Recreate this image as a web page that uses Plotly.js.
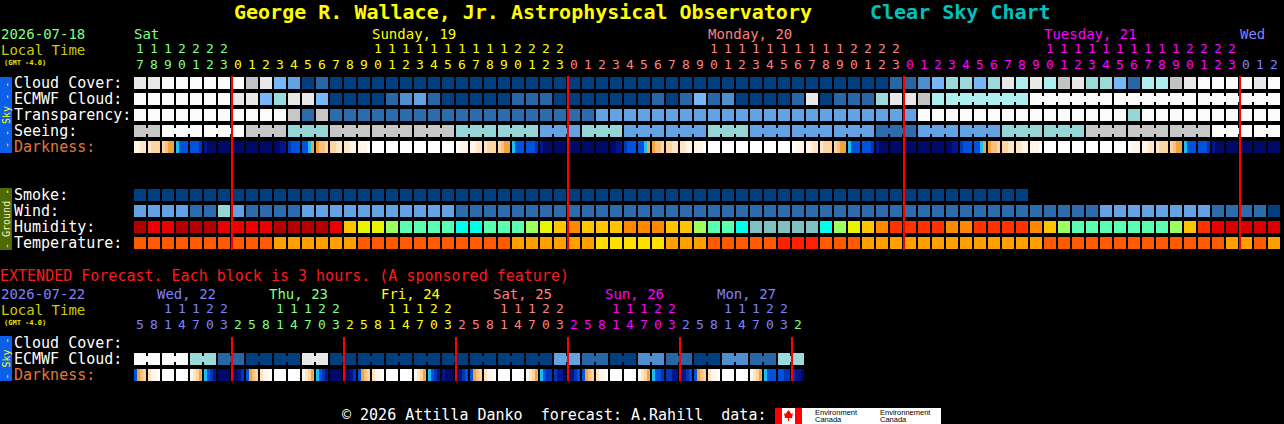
<!DOCTYPE html>
<html><head><meta charset="utf-8">
<script src="https://cdn.plot.ly/plotly-3.0.1.min.js"></script>
<style>html,body{margin:0;padding:0;background:#000;overflow:hidden}#chart{width:1284px;height:424px}</style>
</head><body><div id="chart"></div>
<script>
// ======================= DATA =======================
const mainStartHour = 17;                 // first hourly block: Sat 2026-07-18 17:00 local
const mainDate = '2026-07-18';
const mainDayLabels = ['Sat', 'Sunday, 19', 'Monday, 20', 'Tuesday, 21', 'Wed'];
const extStartHour = 5;                   // first 3-hour block: Wed 2026-07-22 05:00 local
const extStepHours = 3;
const extDate = '2026-07-22';
const extDayLabels = ['Wed, 22', 'Thu, 23', 'Fri, 24', 'Sat, 25', 'Sun, 26', 'Mon, 27'];
const extFirstDayIndex = 4;               // Wed is the 5th day counted from Sat
const dayColors = ['#80ff80', '#ffff00', '#ff8080', '#ff00ff', '#8080ff'];

// cloud cover in tenths (0 = clear, 10 = overcast), one per hour
const cloudCover = [
  9, 9, 10, 10, 10, 10, 10, 10, 8, 9,
  5, 4, 0, 1, 0, 0, 0, 0, 0, 0,
  0, 0, 0, 0, 0, 0, 0, 0, 0, 0,
  0, 0, 0, 0, 0, 0, 0, 0, 0, 0,
  0, 0, 0, 0, 0, 0, 0, 0, 0, 0,
  0, 0, 0, 0, 1, 1, 3, 5, 6, 6,
  5, 6, 9, 7, 9, 7, 8, 9, 6, 6,
  5, 1, 7, 7, 8, 9, 10, 10, 10, 10,
  9, 10
];
// ECMWF cloud in tenths: hourly first, then 6-hour blocks
const ecmwfHourly = [
  10, 10, 10, 10, 10, 10, 10, 9, 9, 5,
  6, 9, 9, 5, 0, 0, 0, 0, 1, 3,
  4, 1, 0, 0, 0, 0, 0, 1, 1, 1,
  0, 0, 0, 0, 0, 0, 0, 1, 0, 1,
  5, 1, 3, 0, 0, 0, 0, 1, 9, 0,
  1, 1, 1, 6, 9, 9, 8, 7
];
const ecmwfSixHour = [7, 10, 10, 10];
// transparency: 0 transparent .. 4 poor, 5 too cloudy to forecast
const transparency = [
  5, 5, 5, 5, 5, 5, 5, 5, 5, 5,
  5, 4, 1, 4, 1, 1, 1, 1, 1, 1,
  1, 1, 1, 1, 1, 1, 1, 1, 1, 1,
  1, 1, 1, 2, 2, 2, 2, 2, 2, 2,
  2, 2, 2, 2, 2, 2, 2, 2, 2, 2,
  2, 2, 2, 2, 2, 2, 5, 5, 5, 5,
  5, 5, 5, 5, 5, 5, 5, 5, 5, 5,
  5, 3, 5, 5, 5, 5, 5, 5, 5, 5,
  5, 5
];
// seeing per 3-hour block: 0 excellent .. 4 bad, 5 too cloudy
const seeingPhase = 1;
const seeing3h = [4, 5, 5, 4, 3, 4, 4, 4, 3, 3, 2, 3, 2, 2, 3, 2, 2, 2, 1, 2, 2, 3, 3, 4, 4, 4, 5, 5];
// darkness: four quarter-hour readings per hour (0 daylight .. 10 darkest)
const darkness = [
  [1,1,2,2],[2,3,3,3],[3,4,5,5],[6,7,7,7],[7,7,7,8],[9,10,10,10],[10,10,10,10],
  [10,10,10,10],[10,10,10,10],[10,10,10,10],[10,10,9,9],[8,7,7,7],[7,7,6,5],[5,4,4,3],
  [3,3,2,2],[2,2,1,1],[1,1,1,0],[0,0,0,0],[0,0,0,0],[0,0,0,0],[0,0,0,0],[0,0,0,0],
  [0,0,0,0],[0,1,1,1],[1,1,2,2],[2,3,3,3],[3,4,5,5],[6,7,7,7],[7,7,7,8],[9,10,10,10],
  [10,10,10,10],
  [10,10,10,10],[10,10,10,10],[10,10,10,10],[10,10,9,9],[8,7,7,7],[7,7,6,5],[5,4,4,3],
  [3,3,2,2],[2,2,1,1],[1,1,1,0],[0,0,0,0],[0,0,0,0],[0,0,0,0],[0,0,0,0],[0,0,0,0],
  [0,0,0,0],[0,1,1,1],[1,1,2,2],[2,3,3,3],[3,4,5,5],[6,7,7,7],[7,7,7,8],[9,10,10,10],
  [10,10,10,10],
  [10,10,10,10],[10,10,10,10],[10,10,10,10],[10,10,9,9],[8,7,7,7],[7,7,6,5],[5,4,4,3],
  [3,3,2,2],[2,2,1,1],[1,1,1,0],[0,0,0,0],[0,0,0,0],[0,0,0,0],[0,0,0,0],[0,0,0,0],
  [0,0,0,0],[0,1,1,1],[1,1,2,2],[2,3,3,3],[3,4,5,5],[6,7,7,7],[7,7,7,8],[9,10,10,10],
  [10,10,10,10],
  [10,10,10,10],[10,10,10,10],[10,10,10,10]
];
// smoke: 0 = no smoke (forecast ends after 64 hours)
const smoke = [
  0,0,0,0,0,0,0,0,0,0, 0,0,0,0,0,0,0,0,0,0, 0,0,0,0,0,0,0,0,0,0,
  0,0,0,0,0,0,0,0,0,0, 0,0,0,0,0,0,0,0,0,0, 0,0,0,0,0,0,0,0,0,0,
  0,0,0,0
];
const windMph = [
  14, 14, 14, 14, 8, 8, 20, 14, 8, 8,
  8, 8, 14, 14, 14, 14, 14, 14, 14, 14,
  14, 14, 14, 8, 8, 8, 8, 8, 8, 8,
  8, 8, 8, 8, 8, 8, 8, 8, 8, 8,
  8, 8, 8, 8, 8, 8, 8, 8, 8, 8,
  8, 8, 8, 8, 8, 8, 8, 8, 8, 8,
  8, 8, 8, 8, 8, 8, 8, 8, 8, 14,
  14, 14, 14, 14, 14, 14, 14, 8, 8, 8,
  8, 3
];
const humidity = [
  97, 92, 92, 97, 97, 97, 92, 92, 92, 92,
  97, 97, 97, 97, 92, 78, 73, 73, 68, 63,
  63, 63, 63, 58, 58, 63, 63, 63, 68, 73,
  78, 83, 78, 78, 78, 83, 83, 83, 78, 78,
  68, 63, 63, 58, 53, 53, 53, 53, 53, 58,
  68, 73, 78, 83, 88, 88, 88, 88, 83, 83,
  88, 88, 88, 88, 83, 78, 68, 63, 63, 63,
  63, 63, 63, 63, 68, 78, 88, 92, 95, 95,
  95, 95
];
const temperatureF = [
  72, 72, 72, 72, 72, 72, 72, 72, 72, 72,
  66, 66, 66, 66, 66, 66, 72, 72, 72, 72,
  72, 72, 72, 72, 72, 72, 72, 66, 66, 66,
  66, 66, 66, 61, 61, 61, 61, 61, 66, 66,
  66, 72, 72, 72, 72, 72, 79, 79, 79, 72,
  72, 72, 66, 66, 66, 66, 66, 66, 66, 66,
  66, 66, 66, 66, 66, 72, 72, 72, 72, 72,
  72, 72, 72, 72, 72, 72, 72, 72, 66, 66,
  72, 66
];
// extended forecast (3-hour blocks)
const extEcmwfSixHour = [10, 10, 6, 1, 0, 0, 9, 0, 0, 0, 0, 0, 0, 0, 0, 4, 1, 0, 3, 1, 0, 3, 1, 6];
const extDarkness = [
  [7,5,4,3],[2,1,1,0],[0,0,0,0],[0,0,0,0],[1,2,3,5],[6,7,8,9],[10,10,10,10],
  [10,10,9,8],[7,5,4,3],[2,1,1,0],[0,0,0,0],[0,0,0,0],[1,2,3,5],[6,7,8,9],[10,10,10,10],
  [10,10,9,8],[7,5,4,3],[2,1,1,0],[0,0,0,0],[0,0,0,0],[1,2,3,5],[6,7,8,9],[9,10,10,10],
  [10,9,8,7],[7,5,4,3],[2,1,1,0],[0,0,0,0],[0,0,0,0],[1,2,3,5],[6,7,8,8],[8,9,9,10],
  [10,9,8,7],[7,5,4,3],[2,1,1,0],[0,0,0,0],[0,0,0,0],[1,2,3,5],[6,7,7,8],[8,8,9,9],
  [9,9,8,7],[7,5,4,3],[2,1,1,0],[0,0,0,0],[0,0,0,0],[1,2,3,5],[6,7,7,7],[7,7,8,8],
  [8,9,9,10]
];

// ======================= STYLE / GEOMETRY =======================
const W = 1284, H = 424;
const X0 = 134, PITCH = 14, BLOCK = 12;
const BW = BLOCK / PITCH, HALF = BW / 2;
const FONT = 'DejaVu Sans Mono, Liberation Mono, monospace';
const xr0 = -(X0 + BLOCK / 2) / PITCH;
const rowTop = {cloud: 77, ecmwf: 93, transp: 109, seeing: 125, dark: 141,
  smoke: 189, wind: 205, hum: 221, temp: 237, extCloud: 337, extEcmwf: 353, extDark: 369};
const DIGIT_SIZE = 13, HEAD_SIZE = 14, LABEL_SIZE = 15;

const cloudColors = ['#003f7f','#2767a7','#3b7bbb','#4f8fcf','#63a3e3','#77b7f7','#9adada','#aeeeee','#c2c2c2','#e8e8e8','#fbfbfb'];
const scaleColors = ['#003f7f','#2c6cac','#63a3e3','#95d5d5','#c7c7c7','#fbfbfb'];
const darkColors = ['#ffffff','#fff5e8','#fde6c6','#fbd6a2','#f8c27c','#f0a23e','#18c0f0','#0052dc','#0036b8','#00168a','#000868'];
const cloudC = v => cloudColors[v];
const scaleC = v => scaleColors[v];
const windC = v => v < 6 ? scaleColors[0] : v < 12 ? scaleColors[1] : v < 17 ? scaleColors[2] : v < 29 ? scaleColors[3] : v < 46 ? scaleColors[4] : scaleColors[5];
const humC = v => v >= 96 ? '#b40000' : v >= 94 ? '#d80000' : v >= 90 ? '#ea0000' : v >= 85 ? '#ff3300' :
  v >= 80 ? '#ff8800' : v >= 75 ? '#ffc400' : v >= 70 ? '#e8f400' : v >= 65 ? '#9cff60' :
  v >= 60 ? '#58ffb0' : v >= 55 ? '#00ffe8' : '#80c0c0';
const tempC = v => v < 64 ? '#ffe000' : v < 68 ? '#ffa000' : v < 77 ? '#ff5a00' : '#ff2000';

const traces = [];
function blocks(vals, colorFn, top, colOf) {
  const x = [], c = [];
  vals.forEach((v, i) => { if (v === null || v === undefined) return; x.push(colOf ? colOf(i) : i); c.push(colorFn(v)); });
  traces.push({type: 'bar', x, y: x.map(() => BLOCK), base: top, width: BW,
    marker: {color: c, line: {width: 0}}, hoverinfo: 'skip', showlegend: false});
}
// joined multi-column blocks: [first col, last col, value]
function joined(groups, colorFn, top) {
  const x = [], c = [];
  groups.forEach(([a, b, v]) => { for (let k = a; k < b; k++) { x.push(k + 0.5); c.push(colorFn(v)); } });
  traces.push({type: 'bar', x, y: x.map(() => 6), base: top + 3, width: 4 / PITCH,
    marker: {color: c, line: {width: 0}}, hoverinfo: 'skip', showlegend: false});
}
function darkRow(sub, top) {
  const xe = [], z = [];
  sub.forEach((cells, c) => {
    const m = cells.length;
    for (let k = 0; k < m; k++) { xe.push(c - HALF + k * BW / m); z.push(cells[k]); }
    if (c < sub.length - 1) { xe.push(c + HALF); z.push(null); }
  });
  xe.push(sub.length - 1 + HALF);
  traces.push({type: 'heatmap', x: xe, y: [top, top + BLOCK], z: [z], zmin: 0, zmax: 10,
    colorscale: darkColors.map((col, i) => [i / 10, col]), showscale: false, hoverinfo: 'skip'});
}

// ---- main sky rows ----
blocks(cloudCover, cloudC, rowTop.cloud);
blocks(ecmwfHourly, cloudC, rowTop.ecmwf);
const ecmwfGroups = ecmwfSixHour.map((v, k) => [ecmwfHourly.length + 6 * k, ecmwfHourly.length + 6 * k + 5, v]);
const ecmwfSixCols = [], ecmwfSixVals = [];
ecmwfGroups.forEach(([a, b, v]) => { for (let k = a; k <= b; k++) { ecmwfSixCols.push(k); ecmwfSixVals.push(v); } });
blocks(ecmwfSixVals, cloudC, rowTop.ecmwf, i => ecmwfSixCols[i]);
joined(ecmwfGroups, cloudC, rowTop.ecmwf);
blocks(transparency, scaleC, rowTop.transp);
const nMain = cloudCover.length;
const seeingCols = [], seeingGroups = [];
for (let c = 0; c < nMain; c++) seeingCols.push(seeing3h[Math.floor((c + seeingPhase) / 3)]);
seeing3h.forEach((v, b) => seeingGroups.push([Math.max(0, 3 * b - seeingPhase), Math.min(nMain - 1, 3 * b - seeingPhase + 2), v]));
blocks(seeingCols, scaleC, rowTop.seeing);
joined(seeingGroups, scaleC, rowTop.seeing);
darkRow(darkness, rowTop.dark);
// ---- ground rows ----
blocks(smoke, scaleC, rowTop.smoke);
blocks(windMph, windC, rowTop.wind);
blocks(humidity, humC, rowTop.hum);
blocks(temperatureF, tempC, rowTop.temp);
// ---- extended rows ----
const extGroups = extEcmwfSixHour.map((v, k) => [2 * k, 2 * k + 1, v]);
const extCols = [], extVals = [];
extGroups.forEach(([a, b, v]) => { for (let k = a; k <= b; k++) { extCols.push(k); extVals.push(v); } });
blocks(extVals, cloudC, rowTop.extEcmwf, i => extCols[i]);
joined(extGroups, cloudC, rowTop.extEcmwf);
darkRow(extDarkness, rowTop.extDark);

// ---- hour digits ----
function hourDigits(n, hourAbs, dayIdxOffset, yTens, yOnes) {
  const tx = [], tt = [], tc = [], ox = [], ot = [], oc = [];
  for (let c = 0; c < n; c++) {
    const a = hourAbs(c), h = a % 24, col = dayColors[(Math.floor(a / 24) + dayIdxOffset) % 5];
    if (h >= 10) { tx.push(c); tt.push(String(Math.floor(h / 10))); tc.push(col); }
    ox.push(c); ot.push(String(h % 10)); oc.push(col);
  }
  const common = {type: 'scatter', mode: 'text', cliponaxis: false, hoverinfo: 'skip', showlegend: false};
  traces.push(Object.assign({x: tx, y: tx.map(() => yTens), text: tt, textfont: {family: FONT, size: DIGIT_SIZE, color: tc}}, common));
  traces.push(Object.assign({x: ox, y: ox.map(() => yOnes), text: ot, textfont: {family: FONT, size: DIGIT_SIZE, color: oc}}, common));
}
hourDigits(nMain, c => mainStartHour + c, 0, 50, 66);
const nExt = extDarkness.length;
hourDigits(nExt, c => extStartHour + extStepHours * c, extFirstDayIndex, 310, 326);

// ---- annotations & shapes ----
const ann = [], shapes = [];
const P = v => v / W;
function txt(xp, y, text, color, size, extra) {
  ann.push(Object.assign({xref: 'paper', yref: 'y', x: P(xp), y, text, showarrow: false, xanchor: 'left', yanchor: 'middle',
    borderpad: 0, borderwidth: 0, font: {family: FONT, size, color}}, extra || {}));
}
const nb = s => s.replace(/ /g, '\u00a0');
txt(234, 12, '<b>' + nb('George R. Wallace, Jr. Astrophysical Observatory') + '</b>', '#ffff00', 20);
txt(870, 12, '<b>' + nb('Clear Sky Chart') + '</b>', '#00c0c0', 20);
txt(1, 34, mainDate, '#80ff80', HEAD_SIZE);
txt(1, 50, nb('Local Time'), '#cccc00', HEAD_SIZE);
txt(4, 63, '<b>' + nb('(GMT -4.0)') + '</b>', '#e8e800', 7);
// day labels
mainDayLabels.forEach((lab, d) => {
  let col = 24 * d + 10 - mainStartHour;
  const first = Math.max(0, 24 * d - mainStartHour);
  if (col < first || col > nMain - 1) col = first;
  ann.push({xref: 'x', yref: 'y', x: col - HALF, y: 34, text: nb(lab), showarrow: false, xanchor: 'left', yanchor: 'middle',
    borderpad: 0, borderwidth: 0, font: {family: FONT, size: HEAD_SIZE, color: dayColors[d % 5]}});
});
extDayLabels.forEach((lab, d) => {
  const col = (24 * d + 10 - extStartHour) / extStepHours;
  ann.push({xref: 'x', yref: 'y', x: col - HALF, y: 294, text: nb(lab), showarrow: false, xanchor: 'left', yanchor: 'middle',
    borderpad: 0, borderwidth: 0, font: {family: FONT, size: HEAD_SIZE, color: dayColors[(d + extFirstDayIndex) % 5]}});
});
// row labels
const mainLabels = [['Cloud Cover:', 'cloud'], ['ECMWF Cloud:', 'ecmwf'], ['Transparency:', 'transp'], ['Seeing:', 'seeing'], ['Darkness:', 'dark'],
  ['Smoke:', 'smoke'], ['Wind:', 'wind'], ['Humidity:', 'hum'], ['Temperature:', 'temp'],
  ['Cloud Cover:', 'extCloud'], ['ECMWF Cloud:', 'extEcmwf'], ['Darkness:', 'extDark']];
mainLabels.forEach(([t, k]) => txt(14, rowTop[k] + 6, nb(t), k.toLowerCase().indexOf('dark') >= 0 ? '#e0783c' : '#ffffff', LABEL_SIZE));
// extended header
txt(0, 276, nb('EXTENDED Forecast. Each block is 3 hours. (A sponsored feature)'), '#ff1a1a', 15);
txt(1, 294, extDate, '#8080ff', HEAD_SIZE);
txt(1, 310, nb('Local Time'), '#cccc00', HEAD_SIZE);
txt(4, 323, '<b>' + nb('(GMT -4.0)') + '</b>', '#e8e800', 7);
// side bars
function sideBar(y0, y1, fill, label, color) {
  shapes.push({type: 'rect', xref: 'paper', yref: 'y', x0: 0, x1: P(12), y0, y1, fillcolor: fill, line: {width: 0}, layer: 'below'});
  ann.push({xref: 'paper', yref: 'y', x: P(6), y: (y0 + y1) / 2, text: nb(label), textangle: -90, showarrow: false,
    xanchor: 'center', yanchor: 'middle', borderpad: 0, borderwidth: 0, font: {family: FONT, size: 10, color}});
}
sideBar(77, 153, '#0b5fe8', '- - Sky - -', '#ffff00');
sideBar(188, 250, '#4f6a00', '- Ground -', '#f0f0d0');
sideBar(336, 381, '#0b5fe8', '- Sky -', '#ffff00');
// midnight lines
for (let c = 0; c < nMain; c++) if ((mainStartHour + c) % 24 === 0)
  shapes.push({type: 'line', xref: 'x', yref: 'y', x0: c - HALF, x1: c - HALF, y0: 76, y1: 250, line: {color: '#ff0000', width: 2}});
for (let c = 1; c < nExt; c++) if (Math.floor((extStartHour + extStepHours * c) / 24) !== Math.floor((extStartHour + extStepHours * (c - 1)) / 24))
  shapes.push({type: 'line', xref: 'x', yref: 'y', x0: c - HALF, x1: c - HALF, y0: 337, y1: 381, line: {color: '#ff0000', width: 2}});
// footer
txt(342, 415, nb('© 2026 Attilla Danko  forecast: A.Rahill  data:'), '#ffffff', 15);
const logoFont = {family: 'Liberation Sans Narrow, Liberation Sans, sans-serif', size: 7.5, color: '#000'};
shapes.push({type: 'rect', xref: 'paper', yref: 'y', x0: P(775), x1: P(802), y0: 408, y1: 424, fillcolor: '#ffffff', line: {width: 0}});
shapes.push({type: 'rect', xref: 'paper', yref: 'y', x0: P(775), x1: P(782), y0: 408, y1: 424, fillcolor: '#ff0000', line: {width: 0}});
shapes.push({type: 'rect', xref: 'paper', yref: 'y', x0: P(795), x1: P(802), y0: 408, y1: 424, fillcolor: '#ff0000', line: {width: 0}});
shapes.push({type: 'path', xref: 'paper', yref: 'y', path: `M ${P(788.5)} 410 L ${P(791.5)} 414 L ${P(793)} 413 L ${P(792)} 418 L ${P(789)} 418 L ${P(789)} 421 L ${P(788)} 421 L ${P(788)} 418 L ${P(785)} 418 L ${P(784)} 413 L ${P(785.5)} 414 Z`, fillcolor: '#ff0000', line: {width: 0}});
shapes.push({type: 'rect', xref: 'paper', yref: 'y', x0: P(802), x1: P(941), y0: 408, y1: 424, fillcolor: '#ffffff', line: {width: 0}});
txt(815, 412, 'Environment', '#000', 7.5, {font: logoFont});
txt(815, 419.5, 'Canada', '#000', 7.5, {font: logoFont});
txt(880, 412, 'Environnement', '#000', 7.5, {font: logoFont});
txt(880, 419.5, 'Canada', '#000', 7.5, {font: logoFont});

const layout = {
  width: W, height: H, autosize: false,
  margin: {l: 0, r: 0, t: 0, b: 0, pad: 0},
  paper_bgcolor: '#000000', plot_bgcolor: '#000000',
  barmode: 'overlay', bargap: 0, showlegend: false, hovermode: false,
  xaxis: {range: [xr0, xr0 + W / PITCH], visible: false, fixedrange: true},
  yaxis: {range: [H, 0], visible: false, fixedrange: true},
  shapes, annotations: ann
};
Plotly.newPlot('chart', traces, layout, {staticPlot: true, displayModeBar: false});
</script></body></html>
